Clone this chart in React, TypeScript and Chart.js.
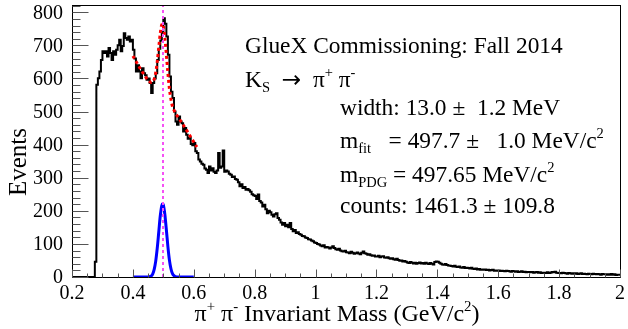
import React, { useEffect, useRef } from "react";
import { Chart, registerables } from "chart.js";

Chart.register(...registerables);

// ---------------- data ----------------
const BIN_START = 0.275; // GeV, left edge of first filled bin
const BIN_WIDTH = 0.005; // GeV
const X_MIN = 0.2;
const X_MAX = 2.0;
const Y_MAX = 822;

const counts: number[] = [
  46, 581, 601, 621, 656,
  682, 677, 682, 666, 692, 677, 656, 682, 672, 687,
  700, 717, 682, 698, 737, 722, 717, 727, 712, 717,
  687, 660, 621, 640, 621, 601, 631, 616, 610, 596,
  600, 586, 556, 586, 600, 616, 656, 690, 715, 740,
  782, 765, 727, 672, 606, 560, 541, 500, 470, 460,
  485, 470, 465, 440, 450, 430, 418, 420, 402, 398,
  405, 380, 375, 355, 349, 342, 339, 328, 324, 314,
  334, 322, 329, 318, 314, 322, 375, 330, 334, 382,
  318, 322, 319, 312, 309, 302, 304, 296, 294, 286,
  274, 280, 269, 272, 264, 266, 262, 258, 250, 247,
  245, 236, 249, 230, 225, 213, 218, 205, 193, 200,
  196, 188, 183, 190, 193, 178, 173, 165, 158, 163,
  153, 158, 150, 163, 145, 138, 142, 133, 135, 130,
  128, 124, 123, 119, 118, 114, 113, 110, 108, 104,
  103, 100, 98, 95, 93, 96, 89, 91, 89, 86,
  89, 93, 88, 84, 82, 85, 80, 78, 77, 79,
  75, 74, 72, 76, 73, 70, 72, 74, 71, 69,
  73, 77, 72, 70, 67, 69, 66, 64, 65, 62,
  62, 64, 60, 62, 63, 59, 58, 60, 57, 55,
  57, 54, 52, 55, 51, 49, 50, 47, 48, 46,
  44, 42, 45, 43, 41, 43, 40, 42, 44, 41,
  42, 40, 43, 41, 39, 42, 40, 38, 45, 47,
  46, 43, 40, 38, 37, 39, 36, 35, 34, 33,
  32, 34, 31, 30, 32, 29, 28, 30, 27, 28,
  27, 26, 28, 25, 24, 26, 23, 24, 22, 23,
  22, 23, 21, 22, 20, 21, 22, 19, 20, 19,
  20, 18, 19, 18, 17, 19, 18, 17, 16, 18,
  17, 16, 17, 15, 16, 17, 15, 16, 14, 15,
  15, 14, 15, 13, 14, 15, 13, 14, 12, 13,
  13, 12, 14, 12, 13, 15, 14, 16, 13, 12,
  12, 11, 13, 12, 11, 10, 12, 11, 10, 11,
  10, 11, 9, 10, 11, 9, 10, 9, 8, 10,
  9, 8, 10, 9, 8, 9, 8, 7, 9, 8,
  8, 7, 8, 7, 9, 7, 8, 6, 7, 7,
];

// total fit (signal + background)
const fitMass: number[] = [
  0.4, 0.41, 0.42, 0.43, 0.44, 0.45, 0.46, 0.465, 0.47, 0.475, 0.48, 0.485,
  0.49, 0.495, 0.4977, 0.5, 0.505, 0.51, 0.515, 0.52, 0.525, 0.53, 0.535,
  0.54, 0.55, 0.56, 0.57, 0.58, 0.59, 0.6, 0.61,
];
const fitCounts: number[] = [
  668, 652, 636, 621, 607, 595, 588, 589, 598, 617, 651, 694,
  737, 763, 765, 759, 724, 672, 616, 569, 537, 516, 504,
  495, 481, 467, 453, 438, 423, 408, 393,
];

// signal peak (blue curve)
const sigMass: number[] = [
  0.4, 0.44, 0.45, 0.455, 0.46, 0.465, 0.47, 0.475, 0.48, 0.485, 0.49, 0.495,
  0.4977, 0.5, 0.505, 0.51, 0.515, 0.52, 0.525, 0.53, 0.535, 0.54, 0.55, 0.6,
];
const sigCounts: number[] = [
  0, 0, 0, 1, 3, 9, 23, 48, 87, 136, 185, 216,
  221, 218, 189, 142, 92, 51, 25, 10, 4, 1, 0, 0,
];

const M_FIT = 0.4977;

const xTickValues: number[] = [0.2, 0.4, 0.6, 0.8, 1.0, 1.2, 1.4, 1.6, 1.8, 2.0];
const xTickLabels: string[] = ["0.2", "0.4", "0.6", "0.8", "1", "1.2", "1.4", "1.6", "1.8", "2"];
const yTickValues: number[] = [0, 100, 200, 300, 400, 500, 600, 700, 800];
const yTickLabels: string[] = ["0", "100", "200", "300", "400", "500", "600", "700", "800"];
const X_MINOR = 0.05;
const Y_MINOR = 20;

// ---------------- text helpers ----------------
type Seg = { t: string; s?: "sub" | "sup"; f?: string };
const FONT = "'Liberation Serif', 'DejaVu Serif', serif";

function segFont(size: number, sg: Seg) {
  const sz = sg.s ? size * 0.62 : size;
  return `${sz}px ${sg.f || FONT}`;
}
function richWidth(ctx: CanvasRenderingContext2D, segs: Seg[], size: number) {
  let w = 0;
  for (const sg of segs) {
    ctx.font = segFont(size, sg);
    w += ctx.measureText(sg.t).width;
  }
  return w;
}
function drawRich(
  ctx: CanvasRenderingContext2D,
  segs: Seg[],
  x: number,
  y: number,
  size: number,
  align: "left" | "center" = "left"
) {
  let cx = align === "center" ? x - richWidth(ctx, segs, size) / 2 : x;
  ctx.textAlign = "left";
  ctx.textBaseline = "alphabetic";
  for (const sg of segs) {
    ctx.font = segFont(size, sg);
    const dy = sg.s === "sup" ? -size * 0.42 : sg.s === "sub" ? size * 0.22 : 0;
    ctx.fillText(sg.t, cx, y + dy);
    cx += ctx.measureText(sg.t).width;
  }
}

const rootStyle = {
  id: "rootStyle",
  afterDatasetsDraw(chart: any) {
    const ctx: CanvasRenderingContext2D = chart.ctx;
    const a = chart.chartArea;
    const xs = chart.scales.x;
    const ys = chart.scales.y;
    ctx.save();

    // magenta dashed line at fitted mass
    const mx = Math.round(xs.getPixelForValue(M_FIT));
    ctx.strokeStyle = "rgb(245,80,245)";
    ctx.lineWidth = 2;
    ctx.setLineDash([3, 3]);
    ctx.beginPath();
    ctx.moveTo(mx, ys.getPixelForValue(0));
    ctx.lineTo(mx, a.top);
    ctx.stroke();
    ctx.setLineDash([]);

    // frame
    ctx.strokeStyle = "#000";
    ctx.lineWidth = 1;
    ctx.strokeRect(Math.round(a.left) + 0.5, Math.round(a.top) + 0.5, Math.round(a.right - a.left), Math.round(a.bottom - a.top));

    // ticks
    ctx.strokeStyle = "#555";
    ctx.beginPath();
    const bottom = Math.round(a.bottom) + 0.5;
    for (let k = 0; ; k++) {
      const v = X_MIN + k * X_MINOR;
      if (v > X_MAX + 1e-9) break;
      const px = Math.round(xs.getPixelForValue(v)) + 0.5;
      const major = k % 4 === 0;
      ctx.moveTo(px, bottom);
      ctx.lineTo(px, bottom - (major ? 8 : 4));
    }
    const left = Math.round(a.left) + 0.5;
    for (let k = 0; ; k++) {
      const v = k * Y_MINOR;
      if (v > Y_MAX) break;
      const py = Math.round(ys.getPixelForValue(v)) + 0.5;
      const major = k % 5 === 0;
      ctx.moveTo(left, py);
      ctx.lineTo(left + (major ? 16 : 8), py);
    }
    ctx.stroke();

    // tick labels
    ctx.fillStyle = "#000";
    ctx.font = `20px ${FONT}`;
    ctx.textBaseline = "alphabetic";
    ctx.textAlign = "center";
    xTickValues.forEach((v, i) => {
      ctx.fillText(xTickLabels[i], xs.getPixelForValue(v), 299);
    });
    ctx.textAlign = "right";
    ctx.textBaseline = "middle";
    yTickValues.forEach((v, i) => {
      ctx.fillText(yTickLabels[i], 63, ys.getPixelForValue(v) + 1);
    });

    // axis titles
    drawRich(
      ctx,
      [
        { t: "\u03c0" },
        { t: "+", s: "sup" },
        { t: " \u03c0" },
        { t: "-", s: "sup" },
        { t: " Invariant Mass (GeV/c" },
        { t: "2", s: "sup" },
        { t: ")" },
      ],
      337,
      321,
      24,
      "center"
    );
    ctx.save();
    ctx.translate(26, 162);
    ctx.rotate(-Math.PI / 2);
    ctx.font = `25px ${FONT}`;
    ctx.textAlign = "center";
    ctx.textBaseline = "alphabetic";
    ctx.fillText("Events", 0, 0);
    ctx.restore();

    // annotations
    const S = 23.4;
    drawRich(ctx, [{ t: "GlueX Commissioning: Fall 2014" }], 245, 53, S);
    drawRich(
      ctx,
      [
        { t: "K" },
        { t: "S", s: "sub" },
        { t: "  " },
        { t: "\u2192", f: "'DejaVu Sans', sans-serif" },
        { t: "  \u03c0" },
        { t: "+", s: "sup" },
        { t: " \u03c0" },
        { t: "-", s: "sup" },
      ],
      245,
      87,
      S
    );
    drawRich(ctx, [{ t: "width: 13.0 \u00b1  1.2 MeV" }], 340, 115, S);
    drawRich(
      ctx,
      [{ t: "m" }, { t: "fit", s: "sub" }, { t: "   = 497.7 \u00b1   1.0 MeV/c" }, { t: "2", s: "sup" }],
      340,
      148,
      S
    );
    drawRich(
      ctx,
      [{ t: "m" }, { t: "PDG", s: "sub" }, { t: " = 497.65 MeV/c" }, { t: "2", s: "sup" }],
      340,
      182,
      S
    );
    drawRich(ctx, [{ t: "counts: 1461.3 \u00b1 109.8" }], 340, 213, S);

    ctx.restore();
  },
};

export default function App() {
  const ref = useRef<HTMLCanvasElement | null>(null);

  useEffect(() => {
    if (!ref.current) return;
    // bin left edges; stepped 'before' keeps each bin's value until the next edge
    const histPoints = [{ x: X_MIN, y: 0 }];
    counts.forEach((c, i) => histPoints.push({ x: BIN_START + i * BIN_WIDTH, y: c }));
    histPoints.push({ x: BIN_START + counts.length * BIN_WIDTH, y: counts[counts.length - 1] });

    const fitPoints = fitMass.map((m, i) => ({ x: m, y: fitCounts[i] }));
    const sigPoints = sigMass.map((m, i) => ({ x: m, y: sigCounts[i] }));

    const chart = new Chart(ref.current, {
      type: "line",
      data: {
        datasets: [
          {
            data: sigPoints,
            borderColor: "#0000ff",
            borderWidth: 3,
            pointRadius: 0,
            cubicInterpolationMode: "monotone",
            order: 1,
          },
          {
            data: fitPoints,
            borderColor: "#ff0000",
            borderWidth: 3,
            borderDash: [3, 3],
            pointRadius: 0,
            cubicInterpolationMode: "monotone",
            order: 2,
          },
          {
            data: histPoints,
            borderColor: "#000000",
            borderWidth: 2,
            pointRadius: 0,
            stepped: "before",
            order: 3,
          },
        ] as any,
      },
      options: {
        responsive: false,
        maintainAspectRatio: false,
        devicePixelRatio: 1,
        animation: false,
        events: [],
        layout: { padding: { left: 72, right: 8, top: 5, bottom: 52 } },
        plugins: { legend: { display: false }, tooltip: { enabled: false } },
        scales: {
          x: { type: "linear", min: X_MIN, max: X_MAX, display: false },
          y: { type: "linear", min: 0, max: Y_MAX, display: false },
        },
      } as any,
      plugins: [rootStyle],
    });
    return () => chart.destroy();
  }, []);

  return (
    <div style={{ position: "absolute", left: 0, top: 0, width: 628, height: 329, background: "#fff" }}>
      <canvas ref={ref} width={628} height={329} style={{ display: "block" }} />
    </div>
  );
}
